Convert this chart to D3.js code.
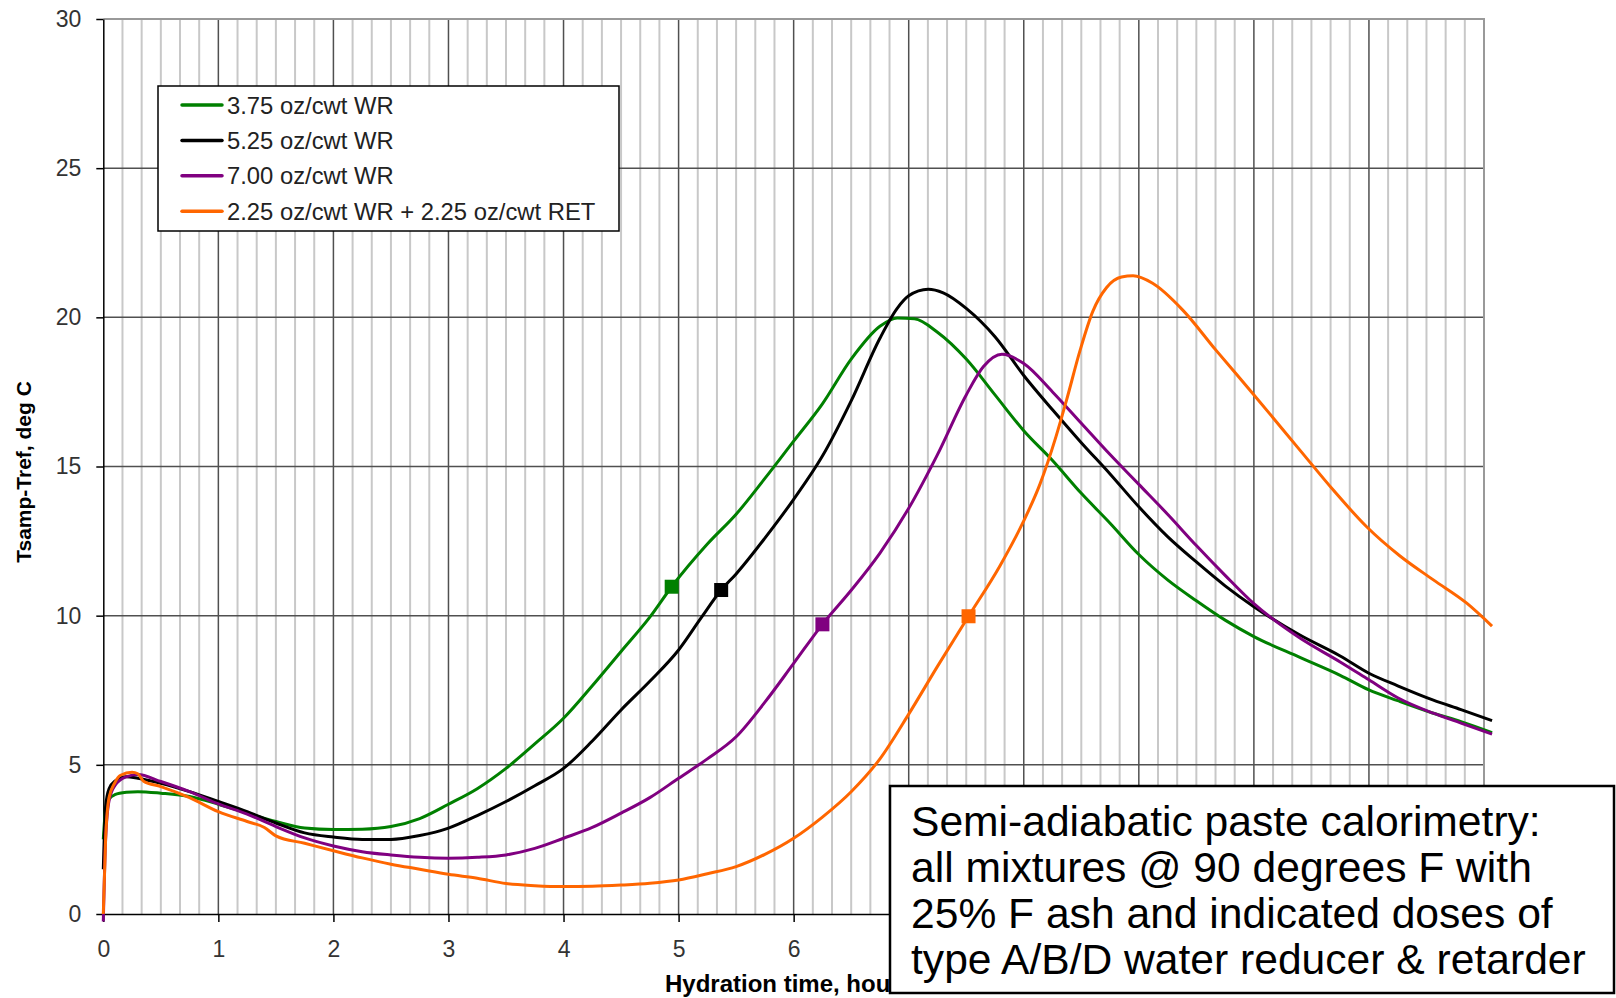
<!DOCTYPE html>
<html><head><meta charset="utf-8">
<script src="https://cdn.jsdelivr.net/npm/d3@7/dist/d3.min.js"></script>
<style>
body{margin:0;background:#fff}
svg{display:block}
text{font-family:"Liberation Sans",Arial,sans-serif}
</style>
</head><body>
<svg id="chart" width="1616" height="998"></svg>
<script>
// ---------- data ----------
const seriesNames = ["3.75 oz/cwt WR", "5.25 oz/cwt WR", "7.00 oz/cwt WR", "2.25 oz/cwt WR + 2.25 oz/cwt RET"];
const seriesColors = ["#008000", "#000000", "#800080", "#FF6600"];

const greenT = [0,0.02,0.05,0.1,0.2,0.3,0.5,0.75,1,1.25,1.5,1.75,2,2.25,2.5,2.75,3,3.25,3.5,3.75,4,4.25,4.5,4.75,4.94,5.25,5.5,5.75,6,6.25,6.5,6.75,6.9,7.05,7.25,7.5,7.75,8,8.25,8.5,8.75,9,9.25,9.5,9.75,10,10.4,10.75,11,11.25,11.56,11.8,12.07];
const greenV = [2.5,3.5,3.85,4.0,4.08,4.1,4.05,3.94,3.68,3.38,3.1,2.88,2.83,2.84,2.93,3.2,3.68,4.2,4.88,5.7,6.56,7.65,8.8,9.95,10.97,12.4,13.4,14.6,15.85,17.1,18.6,19.7,19.98,19.95,19.5,18.6,17.4,16.2,15.2,14.1,13.1,12.05,11.2,10.5,9.85,9.3,8.6,8.0,7.51,7.15,6.73,6.45,6.08];

const blackT = [0,0.02,0.05,0.1,0.2,0.3,0.5,0.75,1,1.25,1.5,1.75,2,2.25,2.5,2.75,3,3.25,3.5,3.75,4,4.25,4.5,4.75,5,5.2,5.37,5.5,5.75,6,6.25,6.5,6.75,6.9,7.0,7.17,7.3,7.5,7.75,8,8.25,8.5,8.75,9,9.25,9.5,9.75,10,10.4,10.75,11,11.25,11.56,11.8,12.07];
const blackV = [1.5,3.6,4.2,4.45,4.6,4.55,4.38,4.1,3.77,3.43,3.05,2.72,2.58,2.5,2.5,2.63,2.88,3.3,3.77,4.3,4.88,5.8,6.84,7.8,8.85,9.95,10.86,11.4,12.6,13.9,15.35,17.2,19.3,20.3,20.72,20.94,20.82,20.3,19.35,18.05,16.9,15.8,14.75,13.65,12.65,11.8,11.0,10.3,9.35,8.65,8.07,7.65,7.17,6.85,6.48];

const purpleT = [0,0.02,0.05,0.1,0.2,0.3,0.5,0.75,1,1.25,1.5,1.75,2,2.25,2.5,2.75,3,3.25,3.5,3.75,4,4.25,4.5,4.75,5,5.25,5.5,5.75,6,6.25,6.5,6.75,7,7.25,7.5,7.65,7.81,8,8.25,8.5,8.75,9,9.25,9.5,9.75,10,10.4,10.75,11,11.25,11.56,11.8,12.07];
const purpleV = [-0.25,2.5,3.8,4.3,4.6,4.68,4.44,4.1,3.69,3.35,2.93,2.55,2.28,2.09,1.98,1.9,1.87,1.9,1.98,2.2,2.54,2.9,3.38,3.9,4.55,5.2,5.94,7.1,8.4,9.71,10.85,12.1,13.6,15.4,17.4,18.35,18.76,18.45,17.5,16.45,15.4,14.4,13.4,12.35,11.35,10.4,9.25,8.45,7.85,7.25,6.73,6.4,6.03];

const orangeT = [0,0.02,0.05,0.1,0.15,0.25,0.3,0.35,0.5,0.75,1,1.25,1.4,1.5,1.75,2,2.25,2.5,2.75,3,3.25,3.5,3.75,4,4.25,4.5,4.75,5,5.25,5.5,5.75,6,6.25,6.5,6.75,7,7.25,7.52,7.79,7.99,8.14,8.28,8.37,8.49,8.6,8.72,8.85,8.95,9.12,9.38,9.67,9.99,10.4,10.69,10.98,11.27,11.56,11.85,12.07];
const orangeV = [0,2.5,3.9,4.4,4.65,4.75,4.7,4.45,4.27,3.9,3.43,3.1,2.9,2.62,2.37,2.12,1.88,1.67,1.5,1.33,1.2,1.02,0.95,0.92,0.93,0.97,1.03,1.14,1.35,1.59,2.0,2.54,3.25,4.1,5.2,6.7,8.3,9.98,11.65,13.1,14.4,16.0,17.2,18.9,20.2,21.0,21.35,21.39,21.14,20.25,18.9,17.45,15.55,14.21,12.98,12.0,11.2,10.42,9.65];

const markerT = [4.94, 5.37, 6.25, 7.52];
const markerV = [10.97, 10.86, 9.71, 9.98];

const xTicks = [0,1,2,3,4,5,6,7,8,9,10,11,12];
const yTicks = [0,5,10,15,20,25,30];
const xTitle = "Hydration time, hours";
const yTitle = "Tsamp-Tref, deg C";
const noteLines = ["Semi-adiabatic paste calorimetry:", "all mixtures @ 90 degrees F with", "25% F ash and indicated doses of", "type A/B/D water reducer & retarder"];

// ---------- drawing ----------
const svg = d3.select("#chart");
const L = 103.3, R = 1484, T = 19, B = 914;
const x = d3.scaleLinear().domain([0, 12]).range([L, R]);
const y = d3.scaleLinear().domain([0, 30]).range([B, T]);

svg.append("rect").attr("width", 1616).attr("height", 998).attr("fill", "#fff");

// minor vertical grid (10-minute steps)
const minor = d3.range(0, 73).map(i => i / 6).filter(v => Math.abs(v - Math.round(v)) > 1e-6);
svg.append("g").selectAll("line").data(minor).join("line")
  .attr("x1", d => x(d)).attr("x2", d => x(d)).attr("y1", T).attr("y2", B)
  .attr("stroke", "#c8c8c8").attr("stroke-width", 2);

// major grid
svg.append("g").selectAll("line").data(xTicks.slice(1, -1)).join("line")
  .attr("x1", d => x(d)).attr("x2", d => x(d)).attr("y1", T).attr("y2", B)
  .attr("stroke", "#505050").attr("stroke-width", 1.5);
svg.append("g").selectAll("line").data(yTicks.slice(1, -1)).join("line")
  .attr("x1", L).attr("x2", R).attr("y1", d => y(d)).attr("y2", d => y(d))
  .attr("stroke", "#505050").attr("stroke-width", 1.5);

// top/right border
svg.append("path").attr("d", `M${L},${T}H${R}V${B}`).attr("fill", "none")
  .attr("stroke", "#999").attr("stroke-width", 2);

// annotation box geometry (labels hidden beneath it are not drawn)
const boxX = 890, boxY = 786, boxW = 724, boxH = 207;

// axes
const ax = svg.append("g").attr("transform", `translate(0,${B})`)
  .call(d3.axisBottom(x).tickValues(xTicks).tickFormat(d => x(d) + 10 < boxX ? d3.format("d")(d) : "")
    .tickSize(8).tickSizeOuter(0).tickPadding(19));
const ay = svg.append("g").attr("transform", `translate(${L},0)`)
  .call(d3.axisLeft(y).tickValues(yTicks).tickFormat(d3.format("d")).tickSize(7).tickSizeOuter(0).tickPadding(15));
[ax, ay].forEach(g => {
  g.select(".domain").attr("stroke", "#000").attr("stroke-width", 1.5);
  g.selectAll(".tick line").attr("stroke", "#000").attr("stroke-width", 1.5);
  g.selectAll(".tick text").attr("font-size", 23).attr("fill", "#333")
    .attr("font-family", '"Liberation Sans",Arial,sans-serif');
});

// curves
const allT = [greenT, blackT, purpleT, orangeT];
const allV = [greenV, blackV, purpleV, orangeV];
const line = d3.line().x(d => x(d[0])).y(d => y(d[1])).curve(d3.curveMonotoneX);
allT.forEach((ts, i) => {
  const pts = ts.map((t, j) => [t, allV[i][j]]);
  svg.append("path").datum(pts).attr("d", line).attr("fill", "none")
    .attr("stroke", seriesColors[i]).attr("stroke-width", 3).attr("stroke-linejoin", "round");
});

// markers
const ms = 14;
svg.append("g").selectAll("rect").data(markerT).join("rect")
  .attr("x", (d) => x(d) - ms / 2).attr("y", (d, i) => y(markerV[i]) - ms / 2)
  .attr("width", ms).attr("height", ms).attr("fill", (d, i) => seriesColors[i]);

// legend
const lg = svg.append("g");
lg.append("rect").attr("x", 158).attr("y", 86).attr("width", 461).attr("height", 145)
  .attr("fill", "#fff").attr("stroke", "#000").attr("stroke-width", 1.5);
seriesNames.forEach((n, i) => {
  const yy = 105 + i * 35.4;
  lg.append("line").attr("x1", 182).attr("x2", 222).attr("y1", yy).attr("y2", yy)
    .attr("stroke", seriesColors[i]).attr("stroke-width", 3.5).attr("stroke-linecap", "round");
  lg.append("text").attr("x", 227).attr("y", yy).attr("dy", "0.36em")
    .attr("font-size", 23.8).attr("fill", "#222").text(n);
});

// axis titles (x title is partly covered by the annotation box, as in the original)
svg.append("text").attr("x", 665).attr("y", 992).attr("font-size", 24).attr("font-weight", "bold")
  .attr("fill", "#000").text(xTitle);
svg.append("text").attr("transform", "translate(31,472) rotate(-90)").attr("text-anchor", "middle")
  .attr("font-size", 21).attr("font-weight", "bold").attr("fill", "#000").text(yTitle);

// annotation box
const nb = svg.append("g");
nb.append("rect").attr("x", boxX).attr("y", boxY).attr("width", boxW).attr("height", boxH)
  .attr("fill", "#fff").attr("stroke", "#000").attr("stroke-width", 2.5);
noteLines.forEach((s, i) => {
  nb.append("text").attr("x", 911).attr("y", 836 + i * 46).attr("font-size", 42.6)
    .attr("fill", "#000").text(s);
});
</script>
</body></html>
